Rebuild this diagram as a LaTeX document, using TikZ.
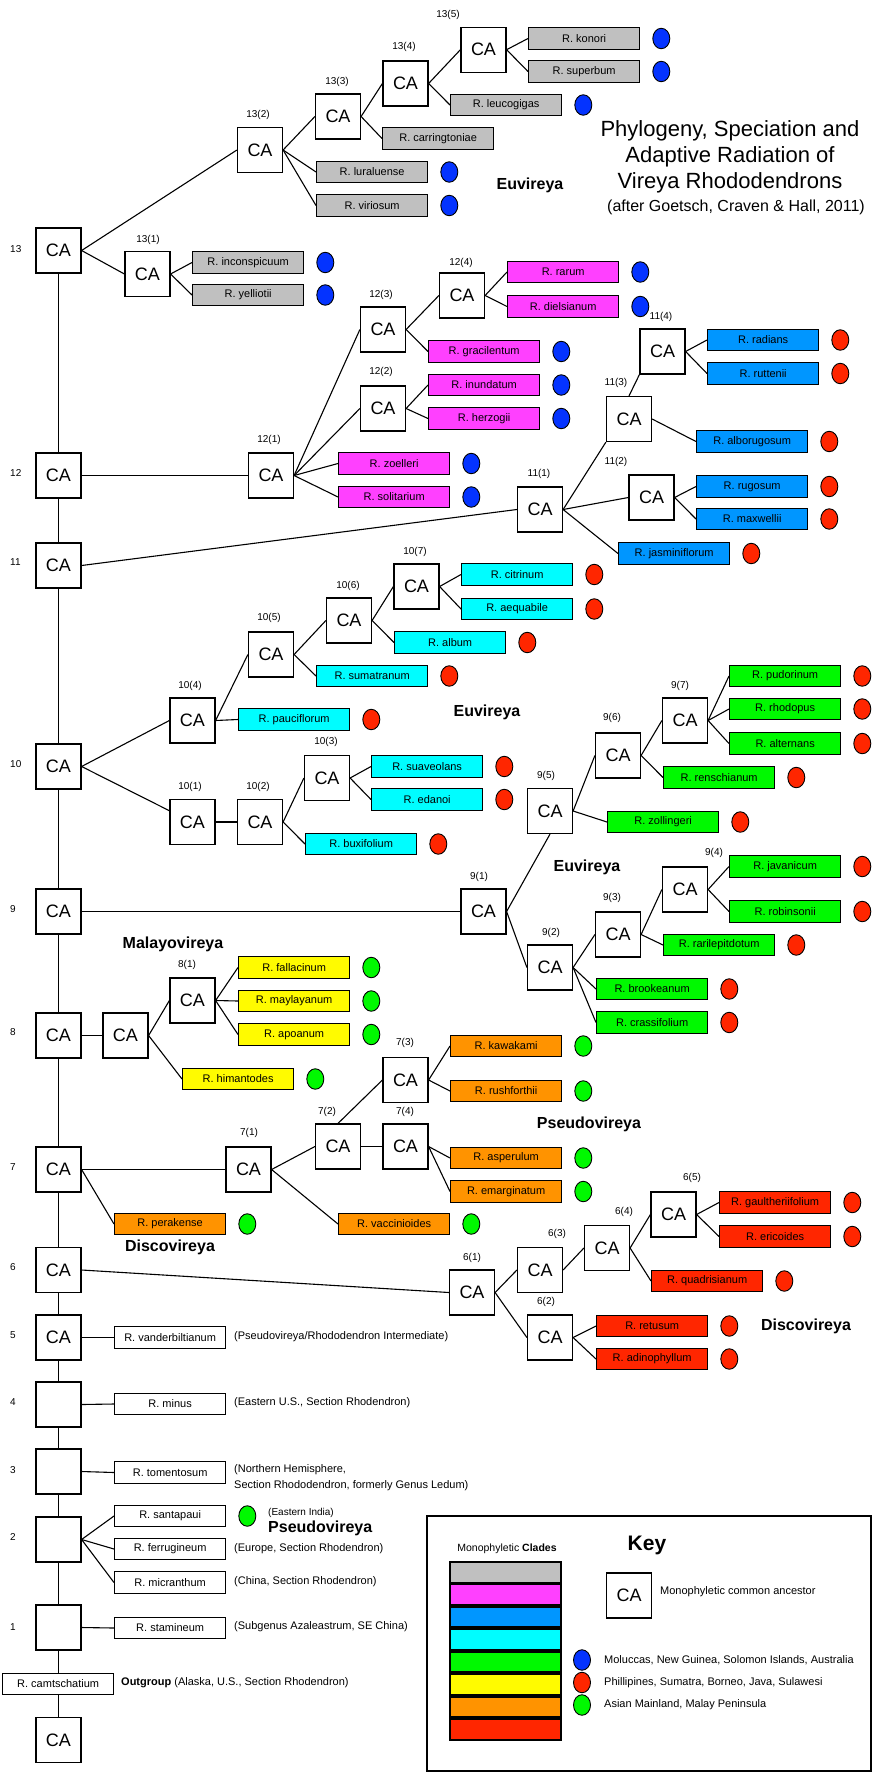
\documentclass[tikz,border=0pt]{standalone}
\usepackage{fontspec}
\setmainfont{Liberation Sans}
\usetikzlibrary{calc,shapes.geometric}
\pgfdeclarelayer{background}
\pgfsetlayers{background,main}
\definecolor{cgray}{HTML}{C0C0C0}
\definecolor{cpink}{HTML}{FF40FF}
\definecolor{cazure}{HTML}{0096FF}
\definecolor{ccyan}{HTML}{00FDFF}
\definecolor{cgreen}{HTML}{00F900}
\definecolor{cyellow}{HTML}{FFFB00}
\definecolor{corange}{HTML}{FF9300}
\definecolor{cred}{HTML}{FF2600}
\definecolor{dblue}{HTML}{0433FF}
\definecolor{dred}{HTML}{FF2600}
\definecolor{dgreen}{HTML}{00F900}
\newcommand{\mysp}[5]{\node[spbox, fill=#4, anchor=west] (#1) at (#2,#3) {R. #5};}
\newcommand{\mydot}[2]{\node[dotn, fill=#2] (d#1) at ($(#1.east)+(21,0)$) {};}
\newcommand{\myca}[3]{\node[cabox] (#1) at (#2,#3) {CA};}
\newcommand{\mylab}[4]{\node[numlab] (#1) at (#2,#3) {#4};}
\newcommand{\ew}[2]{\draw[edge] (#1.east) -- (#2.west);}
\begin{document}
\begin{tikzpicture}[x=1pt,y=-1pt,
 cabox/.style={draw, fill=white, line width=1.2pt, minimum width=45pt, minimum height=45pt, inner sep=0pt, font=\fontsize{18}{18}\selectfont},
 spbox/.style={draw, line width=1.3pt, minimum width=111pt, minimum height=21.5pt, inner sep=0pt, font=\fontsize{11}{11}\selectfont},
 dotn/.style={ellipse, draw, line width=0.9pt, minimum width=17pt, minimum height=20.5pt, inner sep=0pt},
 numlab/.style={font=\fontsize{10}{10}\selectfont, inner sep=0pt},
 clade/.style={font=\bfseries\fontsize{16}{16}\selectfont, inner sep=0pt},
 note/.style={font=\fontsize{11}{11}\selectfont, anchor=west, inner sep=0pt},
 edge/.style={line width=1.1pt},
 keybar/.style={draw, line width=2pt, minimum width=111pt, minimum height=20.5pt, inner sep=0pt}
]
\path[use as bounding box] (0,0) rectangle (873,1772);

% ---------- common ancestors ----------
\myca{r13}{58.5}{250.5}
\myca{c131}{147.5}{274}
\myca{c132}{260}{150}
\myca{c133}{338}{116.5}
\myca{c134}{405.5}{83.5}
\myca{c135}{483.5}{49.7}
\myca{r12}{58.5}{475.5}
\myca{c121}{271}{475.5}
\myca{c122}{383}{408.5}
\myca{c123}{383}{329.5}
\myca{c124}{462}{295.5}
\myca{r11}{58.5}{565.5}
\myca{c111}{540}{509.5}
\myca{c112}{651.5}{497.5}
\myca{c113}{629}{419}
\myca{c114}{662.5}{351.5}
\myca{r10}{58.5}{766.5}
\myca{c101}{192.5}{822}
\myca{c102}{260}{822}
\myca{c103}{327}{778}
\myca{c104}{192.5}{720.5}
\myca{c105}{271}{654.5}
\myca{c106}{349}{620.5}
\myca{c107}{416.5}{586.5}
\myca{r9}{58.5}{911.5}
\myca{c91}{483.5}{911.5}
\myca{c92}{550}{967.5}
\myca{c93}{618}{934.5}
\myca{c94}{685}{889.5}
\myca{c95}{550}{811}
\myca{c96}{618}{755.5}
\myca{c97}{685}{720.5}
\myca{r8}{58.5}{1035.5}
\myca{c8a}{125.5}{1035.5}
\myca{c81}{192.5}{1000.5}
\myca{r7}{58.5}{1169.5}
\myca{c71}{248.5}{1169.5}
\myca{c72}{338}{1146.5}
\myca{c73}{405.5}{1080}
\myca{c74}{405.5}{1146.5}
\myca{r6}{58.5}{1270}
\myca{c61}{472}{1292.5}
\myca{c62}{550}{1337.5}
\myca{c63}{540}{1270}
\myca{c64}{607}{1248}
\myca{c65}{673.5}{1214.5}
\myca{r5}{58.5}{1337.5}
\node[cabox] (r4) at (58.5,1404.5) {};
\node[cabox] (r3) at (58.5,1471.5) {};
\node[cabox] (r2) at (58.5,1539.5) {};
\node[cabox] (r1) at (58.5,1627.5) {};
\myca{r0}{58.5}{1740}

% ---------- species ----------
\mysp{konori}{528}{38.5}{cgray}{konori}
\mysp{superbum}{528}{71.5}{cgray}{superbum}
\mysp{leucogigas}{450}{105}{cgray}{leucogigas}
\mysp{carringtoniae}{382}{138.5}{cgray}{carringtoniae}
\mysp{luraluense}{316}{172}{cgray}{luraluense}
\mysp{viriosum}{316}{205.5}{cgray}{viriosum}
\mysp{inconspicuum}{192}{262.5}{cgray}{inconspicuum}
\mysp{yelliotii}{192}{295}{cgray}{yelliotii}
\mysp{rarum}{507}{272}{cpink}{rarum}
\mysp{dielsianum}{507}{306.5}{cpink}{dielsianum}
\mysp{gracilentum}{428}{351.5}{cpink}{gracilentum}
\mysp{inundatum}{428}{385}{cpink}{inundatum}
\mysp{herzogii}{428}{418.5}{cpink}{herzogii}
\mysp{zoelleri}{338}{463.5}{cpink}{zoelleri}
\mysp{solitarium}{338}{497}{cpink}{solitarium}
\mysp{radians}{707}{340}{cazure}{radians}
\mysp{ruttenii}{707}{373.5}{cazure}{ruttenii}
\mysp{alborugosum}{696}{441.5}{cazure}{alborugosum}
\mysp{rugosum}{696}{486.5}{cazure}{rugosum}
\mysp{maxwellii}{696}{519}{cazure}{maxwellii}
\mysp{jasminiflorum}{618}{553.5}{cazure}{jasminiflorum}
\mysp{citrinum}{461}{574.5}{ccyan}{citrinum}
\mysp{aequabile}{461}{609}{ccyan}{aequabile}
\mysp{album}{394}{642.5}{ccyan}{album}
\mysp{sumatranum}{316}{676}{ccyan}{sumatranum}
\mysp{pauciflorum}{238}{719.5}{ccyan}{pauciflorum}
\mysp{suaveolans}{371}{766.5}{ccyan}{suaveolans}
\mysp{edanoi}{371}{799.5}{ccyan}{edanoi}
\mysp{buxifolium}{305}{844}{ccyan}{buxifolium}
\mysp{pudorinum}{729}{676}{cgreen}{pudorinum}
\mysp{rhodopus}{729}{709}{cgreen}{rhodopus}
\mysp{alternans}{729}{743.5}{cgreen}{alternans}
\mysp{renschianum}{663}{777.5}{cgreen}{renschianum}
\mysp{zollingeri}{607}{822}{cgreen}{zollingeri}
\mysp{javanicum}{729}{866.5}{cgreen}{javanicum}
\mysp{robinsonii}{729}{911.5}{cgreen}{robinsonii}
\mysp{rarilepitdotum}{663}{945}{cgreen}{rarilepitdotum}
\mysp{brookeanum}{596}{989}{cgreen}{brookeanum}
\mysp{crassifolium}{596}{1022.5}{cgreen}{crassifolium}
\mysp{fallacinum}{238}{967.5}{cyellow}{fallacinum}
\mysp{maylayanum}{238}{1001}{cyellow}{maylayanum}
\mysp{apoanum}{238}{1034.5}{cyellow}{apoanum}
\mysp{himantodes}{182}{1079}{cyellow}{himantodes}
\mysp{kawakami}{450}{1046}{corange}{kawakami}
\mysp{rushforthii}{450}{1091}{corange}{rushforthii}
\mysp{asperulum}{450}{1158}{corange}{asperulum}
\mysp{emarginatum}{450}{1191.5}{corange}{emarginatum}
\mysp{perakense}{114}{1224}{corange}{perakense}
\mysp{vaccinioides}{338}{1224}{corange}{vaccinioides}
\mysp{gaultheriifolium}{719}{1202.5}{cred}{gaultheriifolium}
\mysp{ericoides}{719}{1236.5}{cred}{ericoides}
\mysp{quadrisianum}{651}{1281}{cred}{quadrisianum}
\mysp{retusum}{596}{1326}{cred}{retusum}
\mysp{adinophyllum}{596}{1359}{cred}{adinophyllum}
\mysp{vanderbiltianum}{114}{1337.5}{white}{vanderbiltianum}
\mysp{minus}{114}{1404}{white}{minus}
\mysp{tomentosum}{114}{1472.5}{white}{tomentosum}
\mysp{santapaui}{114}{1516}{white}{santapaui}
\mysp{ferrugineum}{114}{1549}{white}{ferrugineum}
\mysp{micranthum}{114}{1582.5}{white}{micranthum}
\mysp{stamineum}{114}{1628}{white}{stamineum}
\mysp{cam}{2}{1684}{white}{camtschatium}

% ---------- distribution dots ----------
\foreach \s in {konori,superbum,leucogigas,luraluense,viriosum,inconspicuum,yelliotii,rarum,dielsianum,gracilentum,inundatum,herzogii,zoelleri,solitarium}{\mydot{\s}{dblue}}
\foreach \s in {radians,ruttenii,alborugosum,rugosum,maxwellii,jasminiflorum,citrinum,aequabile,album,sumatranum,pauciflorum,suaveolans,edanoi,buxifolium,pudorinum,rhodopus,alternans,renschianum,zollingeri,javanicum,robinsonii,rarilepitdotum,brookeanum,crassifolium,gaultheriifolium,ericoides,quadrisianum,retusum,adinophyllum}{\mydot{\s}{dred}}
\foreach \s in {fallacinum,maylayanum,apoanum,himantodes,kawakami,rushforthii,asperulum,emarginatum,perakense,vaccinioides,santapaui}{\mydot{\s}{dgreen}}

\begin{pgfonlayer}{background}
% ---------- spine ----------
\foreach \a/\b in {r13/r12,r12/r11,r11/r10,r10/r9,r9/r8,r8/r7,r7/r6,r6/r5,r5/r4,r4/r3,r3/r2,r2/r1}{\draw[edge] (\a) -- (\b);}
\draw[edge] (r1.south) -- (r1.south |- cam.north);
\draw[edge] (r0.north |- cam.south) -- (r0.north);

% ---------- branches ----------
\ew{r13}{c132}\ew{r13}{c131}
\ew{c131}{inconspicuum}\ew{c131}{yelliotii}
\ew{c132}{c133}\ew{c132}{luraluense}\ew{c132}{viriosum}
\ew{c133}{c134}\ew{c133}{carringtoniae}
\ew{c134}{c135}\ew{c134}{leucogigas}
\ew{c135}{konori}\ew{c135}{superbum}
\ew{r12}{c121}
\ew{c121}{c123}\ew{c121}{c122}\ew{c121}{zoelleri}\ew{c121}{solitarium}
\ew{c123}{c124}\ew{c123}{gracilentum}
\ew{c124}{rarum}\ew{c124}{dielsianum}
\ew{c122}{inundatum}\ew{c122}{herzogii}
\ew{r11}{c111}
\draw[edge] (c111.east) -- (c113.south west);
\ew{c111}{c112}\ew{c111}{jasminiflorum}
\draw[edge] (c113.north) -- (c114.south west);
\ew{c113}{alborugosum}
\ew{c114}{radians}\ew{c114}{ruttenii}
\ew{c112}{rugosum}\ew{c112}{maxwellii}
\ew{r10}{c104}
\draw[edge] (r10.east) -- (c101.154);
\ew{c104}{c105}\ew{c104}{pauciflorum}
\ew{c105}{c106}\ew{c105}{sumatranum}
\ew{c106}{c107}\ew{c106}{album}
\ew{c107}{citrinum}\ew{c107}{aequabile}
\ew{c101}{c102}
\ew{c102}{c103}\ew{c102}{buxifolium}
\ew{c103}{suaveolans}\ew{c103}{edanoi}
\ew{r9}{c91}
\draw[edge] (c91.east) -- (c95.south);
\ew{c91}{c92}
\ew{c95}{c96}\ew{c95}{zollingeri}
\ew{c96}{c97}\ew{c96}{renschianum}
\ew{c97}{pudorinum}\ew{c97}{rhodopus}\ew{c97}{alternans}
\ew{c92}{c93}\ew{c92}{brookeanum}\ew{c92}{crassifolium}
\ew{c93}{c94}\ew{c93}{rarilepitdotum}
\ew{c94}{javanicum}\ew{c94}{robinsonii}
\ew{r8}{c8a}
\ew{c8a}{c81}\ew{c8a}{himantodes}
\ew{c81}{fallacinum}\ew{c81}{maylayanum}\ew{c81}{apoanum}
\ew{r7}{c71}\ew{r7}{perakense}
\ew{c71}{c72}\ew{c71}{vaccinioides}
\draw[edge] (c72.north) -- (c73.west);
\ew{c72}{c74}
\ew{c73}{kawakami}\ew{c73}{rushforthii}
\ew{c74}{asperulum}\ew{c74}{emarginatum}
\ew{r6}{c61}
\ew{c61}{c63}\ew{c61}{c62}
\ew{c63}{c64}
\ew{c64}{c65}\ew{c64}{quadrisianum}
\ew{c65}{gaultheriifolium}\ew{c65}{ericoides}
\ew{c62}{retusum}\ew{c62}{adinophyllum}
\ew{r5}{vanderbiltianum}
\ew{r4}{minus}
\ew{r3}{tomentosum}
\ew{r2}{santapaui}\ew{r2}{ferrugineum}\ew{r2}{micranthum}
\ew{r1}{stamineum}
\end{pgfonlayer}

% ---------- node numbers ----------
\mylab{n135}{448}{15}{13(5)}
\mylab{n134}{404}{47}{13(4)}
\mylab{n133}{337}{82}{13(3)}
\mylab{n132}{258}{115}{13(2)}
\mylab{n131}{148}{240}{13(1)}
\mylab{n124}{461}{263}{12(4)}
\mylab{n123}{381}{295}{12(3)}
\mylab{n122}{381}{372}{12(2)}
\mylab{n121}{269}{440}{12(1)}
\mylab{n114}{661}{317}{11(4)}
\mylab{n113}{616}{383}{11(3)}
\mylab{n112}{616}{462}{11(2)}
\mylab{n111}{539}{474}{11(1)}
\mylab{n107}{415}{552}{10(7)}
\mylab{n106}{348}{586}{10(6)}
\mylab{n105}{269}{618}{10(5)}
\mylab{n104}{190}{686}{10(4)}
\mylab{n103}{326}{742}{10(3)}
\mylab{n102}{258}{787}{10(2)}
\mylab{n101}{190}{787}{10(1)}
\mylab{n97}{680}{686}{9(7)}
\mylab{n96}{612}{718}{9(6)}
\mylab{n95}{546}{776}{9(5)}
\mylab{n94}{714}{853}{9(4)}
\mylab{n93}{612}{898}{9(3)}
\mylab{n92}{551}{933}{9(2)}
\mylab{n91}{479}{877}{9(1)}
\mylab{n81}{187}{965}{8(1)}
\mylab{n74}{405}{1112}{7(4)}
\mylab{n73}{405}{1043}{7(3)}
\mylab{n72}{327}{1112}{7(2)}
\mylab{n71}{249}{1133}{7(1)}
\mylab{n65}{692}{1178}{6(5)}
\mylab{n64}{624}{1212}{6(4)}
\mylab{n63}{557}{1234}{6(3)}
\mylab{n62}{546}{1302}{6(2)}
\mylab{n61}{472}{1258}{6(1)}
\foreach \t/\y in {13/249,12/473,11/562,10/764,9/909,8/1032,7/1167,6/1267,5/1335,4/1402,3/1470,2/1537,1/1627}{\node[numlab, anchor=west] (lv\t) at (10,\y) {\t};}

% ---------- clade names ----------
\node[clade] (e1) at (530,185) {Euvireya};
\node[clade] (e2) at (487,712) {Euvireya};
\node[clade] (e3) at (587,867) {Euvireya};
\node[clade] (m1) at (173,944) {Malayovireya};
\node[clade] (p1) at (589,1124) {Pseudovireya};
\node[clade] (s1) at (170,1247) {Discovireya};
\node[clade] (s2) at (806,1326) {Discovireya};

% ---------- title ----------
\node[align=center, inner sep=0pt, font=\fontsize{22}{26}\selectfont] (title) at (730,157) {Phylogeny, Speciation and\\Adaptive Radiation of\\Vireya Rhododendrons};
\node[inner sep=0pt, font=\fontsize{16}{16}\selectfont] (sub) at (736,207) {(after Goetsch, Craven \& Hall, 2011)};

% ---------- notes ----------
\node[note] (a5) at (234,1337) {(Pseudovireya/Rhododendron Intermediate)};
\node[note] (a4) at (234,1403) {(Eastern U.S., Section Rhodendron)};
\node[note] (a3) at (234,1470) {(Northern Hemisphere,};
\node[note] (a3b) at (234,1486) {Section Rhododendron, formerly Genus Ledum)};
\node[note, font=\fontsize{10}{10}\selectfont] (a2) at (268,1513) {(Eastern India)};
\node[clade, anchor=west] (p2) at (268,1528) {Pseudovireya};
\node[note] (a2b) at (234,1549) {(Europe, Section Rhodendron)};
\node[note] (a2c) at (234,1582) {(China, Section Rhodendron)};
\node[note] (a1) at (234,1627) {(Subgenus Azaleastrum, SE China)};
\node[note] (a0) at (121,1683) {\textbf{Outgroup} (Alaska, U.S., Section Rhodendron)};

% ---------- key ----------
\draw[line width=2.6pt] (427,1516) rectangle (871,1771);
\node[inner sep=0pt, font=\bfseries\fontsize{21}{21}\selectfont] (keyt) at (647,1545) {Key};
\node[inner sep=0pt, font=\fontsize{10.5}{10.5}\selectfont] (clt) at (507,1549) {Monophyletic \textbf{Clades}};
\foreach \c [count=\i] in {cgray,cpink,cazure,ccyan,cgreen,cyellow,corange,cred}{\node[keybar, fill=\c] (k\i) at (505.5,{1572.25+22.45*(\i-1)}) {};}
\myca{kca}{629}{1595.5}
\node[note] (kcat) at (660,1592) {Monophyletic common ancestor};
\node[dotn, fill=dblue] (kd1) at (582,1660) {};
\node[dotn, fill=dred] (kd2) at (582,1682.5) {};
\node[dotn, fill=dgreen] (kd3) at (582,1705) {};
\node[note] (kt1) at (604,1660) {Moluccas, New Guinea, Solomon Islands, Australia};
\node[note] (kt2) at (604,1682.5) {Phillipines, Sumatra, Borneo, Java, Sulawesi};
\node[note] (kt3) at (604,1705) {Asian Mainland, Malay Peninsula};
\end{tikzpicture}
\end{document}
